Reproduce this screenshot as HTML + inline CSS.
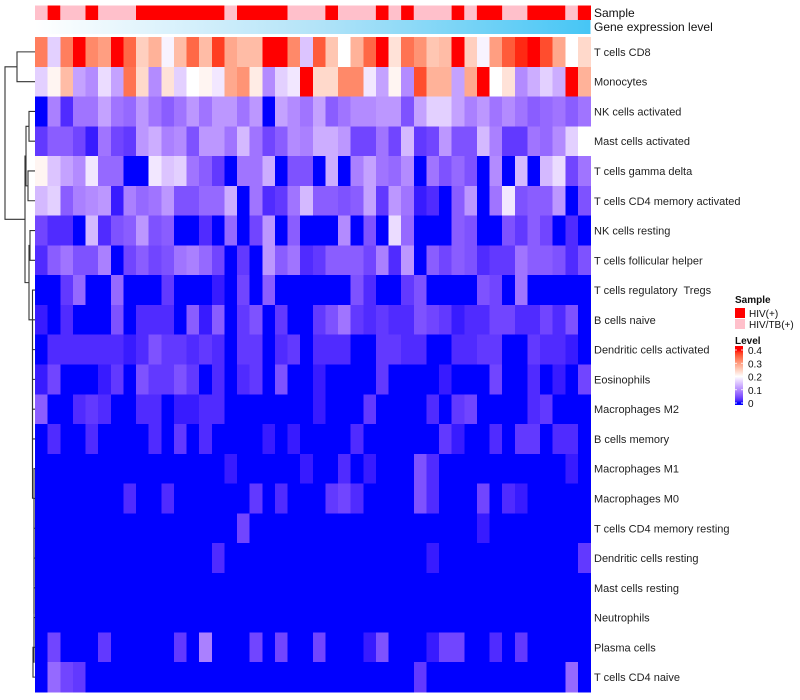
<!DOCTYPE html>
<html><head><meta charset="utf-8"><style>
html,body{margin:0;padding:0;background:#fff;width:800px;height:700px;overflow:hidden}
svg text{font-family:"Liberation Sans",sans-serif;white-space:pre}
</style></head><body>
<svg id="chart" width="800" height="700" xmlns="http://www.w3.org/2000/svg"></svg>
<script>
const rowLabels=["T cells CD8","Monocytes","NK cells activated","Mast cells activated","T cells gamma delta","T cells CD4 memory activated","NK cells resting","T cells follicular helper","T cells regulatory  Tregs","B cells naive","Dendritic cells activated","Eosinophils","Macrophages M2","B cells memory","Macrophages M1","Macrophages M0","T cells CD4 memory resting","Dendritic cells resting","Mast cells resting","Neutrophils","Plasma cells","T cells CD4 naive"];
const sampleGroups=["T","H","T","T","H","T","T","T","H","H","H","H","H","H","H","T","H","H","H","H","T","T","T","H","T","T","T","H","T","H","T","T","T","H","T","H","H","T","T","H","H","H","T","H"];
const levelTicks=[0,0.1,0.2,0.3,0.4];
const r0=[.33,.16,.33,.4,.32,.3,.4,.35,.25,.28,.19,.27,.35,.27,.38,.29,.27,.27,.4,.4,.32,.15,.36,.26,.2,.28,.35,.4,.23,.34,.31,.26,.27,.4,.25,.19,.3,.36,.39,.4,.37,.29,.2,.24];
const r1=[.16,.21,.27,.12,.1,.17,.12,.34,.24,.1,.23,.16,.2,.21,.18,.29,.31,.22,.1,.16,.18,.4,.24,.24,.32,.32,.18,.12,.21,.1,.37,.28,.28,.12,.29,.4,.2,.23,.1,.13,.16,.13,.4,.28];
const r2=[0,.09,.02,.08,.08,.12,.08,.07,.11,.08,.06,.08,.11,.08,.11,.11,.08,.11,0,.12,.1,.08,.12,.06,.08,.1,.1,.11,.11,.05,.12,.16,.16,.12,.09,.11,.08,.1,.08,.06,.07,.08,.06,.08];
const r3=[.03,.06,.06,.04,.01,.08,.04,.03,.11,.13,.09,.1,.05,.11,.11,.08,.14,.08,.04,.06,.1,.09,.13,.13,.11,.04,.04,.08,.04,.14,.03,.04,.11,.05,.05,.14,.09,.03,.03,.08,.07,.1,.16,.2];
const r4=[.21,.15,.12,.1,.18,.07,.07,0,0,.18,.15,.16,.08,.06,.03,0,.08,.08,.13,0,.05,.05,0,.13,0,.09,.12,.08,.07,.1,0,.08,.05,.07,.05,0,.1,0,.14,0,.14,.17,.04,.08];
const r5=[.14,.16,.06,.09,.1,.11,.01,.09,.07,.08,.11,.05,.05,.07,.07,.13,0,.08,.02,.03,.08,.14,.06,.06,.05,.06,.12,.03,.11,.08,.01,.02,0,.06,.11,0,.08,.18,.05,.06,.06,.11,0,.05];
const r6=[.04,.02,.02,0,.14,.02,.05,.06,.11,.05,.06,0,0,.02,0,.07,0,.04,.11,0,.06,0,0,0,.1,0,.05,0,.17,.07,0,0,0,.06,.05,0,0,.05,.03,.06,.04,0,.02,0];
const r7=[.02,.06,.08,.05,.05,.09,0,.04,.06,.04,.05,.08,.09,.07,.04,0,.03,0,.11,.06,.08,.02,.03,.06,.06,.06,.04,.09,.02,.11,0,.06,.04,.06,.05,.02,.03,.03,.08,.06,.06,.05,.02,.05];
const r8=[0,0,.03,.07,0,0,.07,0,0,0,.03,0,0,0,.01,0,.04,0,.06,0,0,0,0,0,0,.05,.02,0,0,.03,.05,0,0,0,0,.05,.04,0,.08,0,0,0,0,0];
const r9=[.01,0,.02,0,0,0,.05,0,.02,.02,.02,0,.06,.01,.06,0,.03,.05,0,.03,0,0,.03,.05,.08,.03,.02,.03,.02,.02,.05,.04,.03,.01,.02,.02,.04,.04,.02,.02,.04,.02,.05,0];
const r10=[0,.02,.02,.02,.02,.02,.02,.01,.02,.05,.03,.03,.02,.03,.02,0,.03,.03,0,.02,.03,0,.02,.02,.02,0,0,.03,.03,.02,.02,0,0,.02,.02,.03,.03,0,0,.03,.02,.02,.01,0];
const r11=[.01,.04,0,0,0,.01,.03,0,.05,.03,.03,.05,.03,0,.02,0,.02,.03,0,.05,0,0,.01,0,0,0,0,.03,0,0,0,0,.01,0,0,0,.04,0,0,.02,0,.01,0,.04];
const r12=[.06,0,0,.02,.03,.02,0,0,.02,.02,0,.01,.01,.02,.02,0,0,0,0,0,0,0,.01,0,0,0,.03,0,0,0,0,.02,0,.03,.04,0,0,0,0,.02,.03,0,0,0];
const r13=[0,.02,0,0,.02,0,0,0,0,.02,0,.03,0,.02,0,0,0,0,.01,0,.01,0,0,0,0,.02,0,0,0,0,0,0,.03,.01,0,0,.02,0,.03,.03,0,.02,.02,0];
const r14=[0,0,0,0,0,0,0,0,0,0,0,0,0,0,0,.01,0,0,0,0,0,.01,0,0,.02,0,.01,0,0,0,.05,.02,0,0,0,0,0,0,0,0,0,0,.01,0];
const r15=[0,0,0,0,0,0,0,.02,0,0,.02,0,0,0,0,0,0,.03,0,.02,0,0,0,.03,.04,.02,0,0,0,0,.05,.02,0,0,0,.04,0,.02,.01,0,0,0,0,0];
const r16=[0,0,0,0,0,0,0,0,0,0,0,0,0,0,0,0,.04,0,0,0,0,0,0,0,0,0,0,0,0,0,0,0,0,0,0,.01,0,0,0,0,0,0,0,0];
const r17=[0,0,0,0,0,0,0,0,0,0,0,0,0,0,.02,0,0,0,0,0,0,0,0,0,0,0,0,0,0,0,0,.01,0,0,0,0,0,0,0,0,0,0,0,.03];
const r18=[0,0,0,0,0,0,0,0,0,0,0,0,0,0,0,0,0,0,0,0,0,0,0,0,0,0,0,0,0,0,0,0,0,0,0,0,0,0,0,0,0,0,0,0];
const r19=[0,0,0,0,0,0,0,0,0,0,0,0,0,0,0,0,0,0,0,0,0,0,0,0,0,0,0,0,0,0,0,0,0,0,0,0,0,0,0,0,0,0,0,0];
const r20=[0,.04,0,0,0,.03,0,0,0,0,0,.03,0,.09,0,0,0,.04,0,.04,0,0,.04,0,0,0,.01,.05,0,0,0,.01,.04,.04,0,0,.02,0,.03,0,0,0,0,0];
const r21=[0,.07,.04,.03,0,0,0,0,0,0,0,0,0,0,0,0,0,0,0,0,0,0,0,0,0,0,0,0,0,0,.03,0,0,0,0,0,0,0,0,0,0,0,.07,0];
const values=[r0,r1,r2,r3,r4,r5,r6,r7,r8,r9,r10,r11,r12,r13,r14,r15,r16,r17,r18,r19,r20,r21];

const NS="http://www.w3.org/2000/svg";
const svg=document.getElementById('chart');
const X0=35,X1=590.5,Y0=37,Y1=692;
const nCol=sampleGroups.length,nRow=rowLabels.length;
const cw=(X1-X0)/nCol,rh=(Y1-Y0)/nRow;
const xScale=c=>X0+c*cw;
const yScale=r=>Y0+r*rh;
function mk(tag,attrs,parent){const e=document.createElementNS(NS,tag);for(const k in attrs)e.setAttribute(k,attrs[k]);(parent||svg).appendChild(e);return e;}
function s2l(c){c/=255;return c<=0.04045?c/12.92:Math.pow((c+0.055)/1.055,2.4);}
function l2s(c){c=c<=0.0031308?12.92*c:1.055*Math.pow(c,1/2.4)-0.055;return Math.max(0,Math.min(255,Math.round(c*255)));}
function toLab(rgb){const r=s2l(rgb[0]),g=s2l(rgb[1]),b=s2l(rgb[2]);
 let x=(0.4124*r+0.3576*g+0.1805*b)/0.95047,y=(0.2126*r+0.7152*g+0.0722*b),z=(0.0193*r+0.1192*g+0.9505*b)/1.08883;
 const f=t=>t>0.008856?Math.cbrt(t):7.787*t+16/116;x=f(x);y=f(y);z=f(z);return [116*y-16,500*(x-y),200*(y-z)];}
function fromLab(l){let y=(l[0]+16)/116,x=l[1]/500+y,z=y-l[2]/200;
 const fi=t=>t*t*t>0.008856?t*t*t:(t-16/116)/7.787;x=fi(x)*0.95047;y=fi(y);z=fi(z)*1.08883;
 const r=3.2406*x-1.5372*y-0.4986*z,g=-0.9689*x+1.8758*y+0.0415*z,b=0.0557*x-0.2040*y+1.0570*z;return [l2s(r),l2s(g),l2s(b)];}
const stops=[[0,toLab([0,0,255])],[0.2,toLab([255,255,255])],[0.4,toLab([255,0,0])]];
function colorOf(v){v=Math.max(0,Math.min(0.4,v));let i=v<=0.2?0:1;const a=stops[i],b=stops[i+1];const t=(v-a[0])/(b[0]-a[0]);
 const lab=[0,1,2].map(k=>a[1][k]+(b[1][k]-a[1][k])*t);const c=fromLab(lab);return `rgb(${c[0]},${c[1]},${c[2]})`;}

const gAnn=mk('g',{});


sampleGroups.forEach((s,c)=>{const r=mk('rect',{x:xScale(c),y:5.5,width:cw+0.5,height:14.5,fill:s==='H'?'#ff0000':'#ffc0cb'},gAnn);
 
 });
const defs=mk('defs',{});
const lg=mk('linearGradient',{id:'gel',x1:'0',x2:'1',y1:'0',y2:'0'},defs);
mk('stop',{offset:'0','stop-color':'#ffffff'},lg);mk('stop',{offset:'0.5','stop-color':'#b4e4f8'},lg);mk('stop',{offset:'1','stop-color':'#46c6f5'},lg);
const ge=mk('rect',{x:X0,y:20,width:X1-X0,height:14,fill:'url(#gel)'});


let t=mk('text',{x:594,y:17,'font-size':12,fill:'#111'});t.textContent='Sample';

t=mk('text',{x:594,y:31,'font-size':12,fill:'#111'});t.textContent='Gene expression level';


const gCells=mk('g',{'shape-rendering':'crispEdges'});


values.forEach((row,r)=>row.forEach((v,c)=>{
 const e=mk('rect',{x:xScale(c),y:yScale(r),width:cw+0.6,height:rh+0.6,fill:colorOf(v)},gCells);
 
 
}));
rowLabels.forEach((l,r)=>{const e=mk('text',{x:594,y:yScale(r)+rh/2+4,'font-size':11,fill:'#222','xml:space':'preserve'});e.textContent=l;
 
 });

const gD=mk('g',{stroke:'#333','stroke-width':1.1,fill:'none'});


const cy=r=>yScale(r)+rh/2;
function merge(a,b,h){mk('path',{d:`M${a.x},${a.y}H${h}V${b.y}H${b.x}`},gD);return {x:h,y:(a.y+b.y)/2};}
const leaf=r=>({x:35,y:cy(r)});
const A=merge(leaf(0),leaf(1),17);
const B=merge(merge(leaf(2),leaf(3),29),merge(leaf(4),leaf(5),28),26);
let tail=merge(leaf(20),leaf(21),33);
for(let r=19;r>=8;r--){tail=merge(leaf(r),tail,r>=14?34:32.5);}
const C=merge(merge(leaf(6),leaf(7),30),tail,29);
const BC=merge(B,C,25);
merge(A,BC,5);

const gL=mk('g',{});


t=mk('text',{x:735,y:303,'font-size':10,'font-weight':'bold',fill:'#111'},gL);t.textContent='Sample';
let sw=mk('rect',{x:735,y:308,width:10,height:10,fill:'#ff0000'},gL);

t=mk('text',{x:749,y:317,'font-size':10,fill:'#111'},gL);t.textContent='HIV(+)';
sw=mk('rect',{x:735,y:319,width:10,height:10,fill:'#ffc0cb'},gL);

t=mk('text',{x:749,y:328,'font-size':10,fill:'#111'},gL);t.textContent='HIV/TB(+)';
t=mk('text',{x:735,y:344,'font-size':10,'font-weight':'bold',fill:'#111'},gL);t.textContent='Level';
const cb=mk('linearGradient',{id:'cbar',x1:'0',x2:'0',y1:'1',y2:'0'},defs);
const barTop=346,barBot=405,lv=v=>barBot-2-(v/0.4)*(barBot-2-(barTop+4));
for(let i=0;i<=20;i++){const v=0.4*i/20;mk('stop',{offset:((barBot-lv(v))/(barBot-barTop)).toFixed(3),'stop-color':colorOf(v)},cb);}
const bar=mk('rect',{x:735,y:barTop,width:8,height:barBot-barTop,fill:'url(#cbar)'},gL);

levelTicks.forEach(v=>{const y=lv(v);
 mk('line',{x1:735,x2:737,y1:y,y2:y,stroke:'#fff','stroke-width':0.8},gL);
 mk('line',{x1:741,x2:743,y1:y,y2:y,stroke:'#fff','stroke-width':0.8},gL);
 const e=mk('text',{x:748,y:y+4,'font-size':10,fill:'#111'},gL);e.textContent=String(v);
 
 });
</script>
</body></html>
